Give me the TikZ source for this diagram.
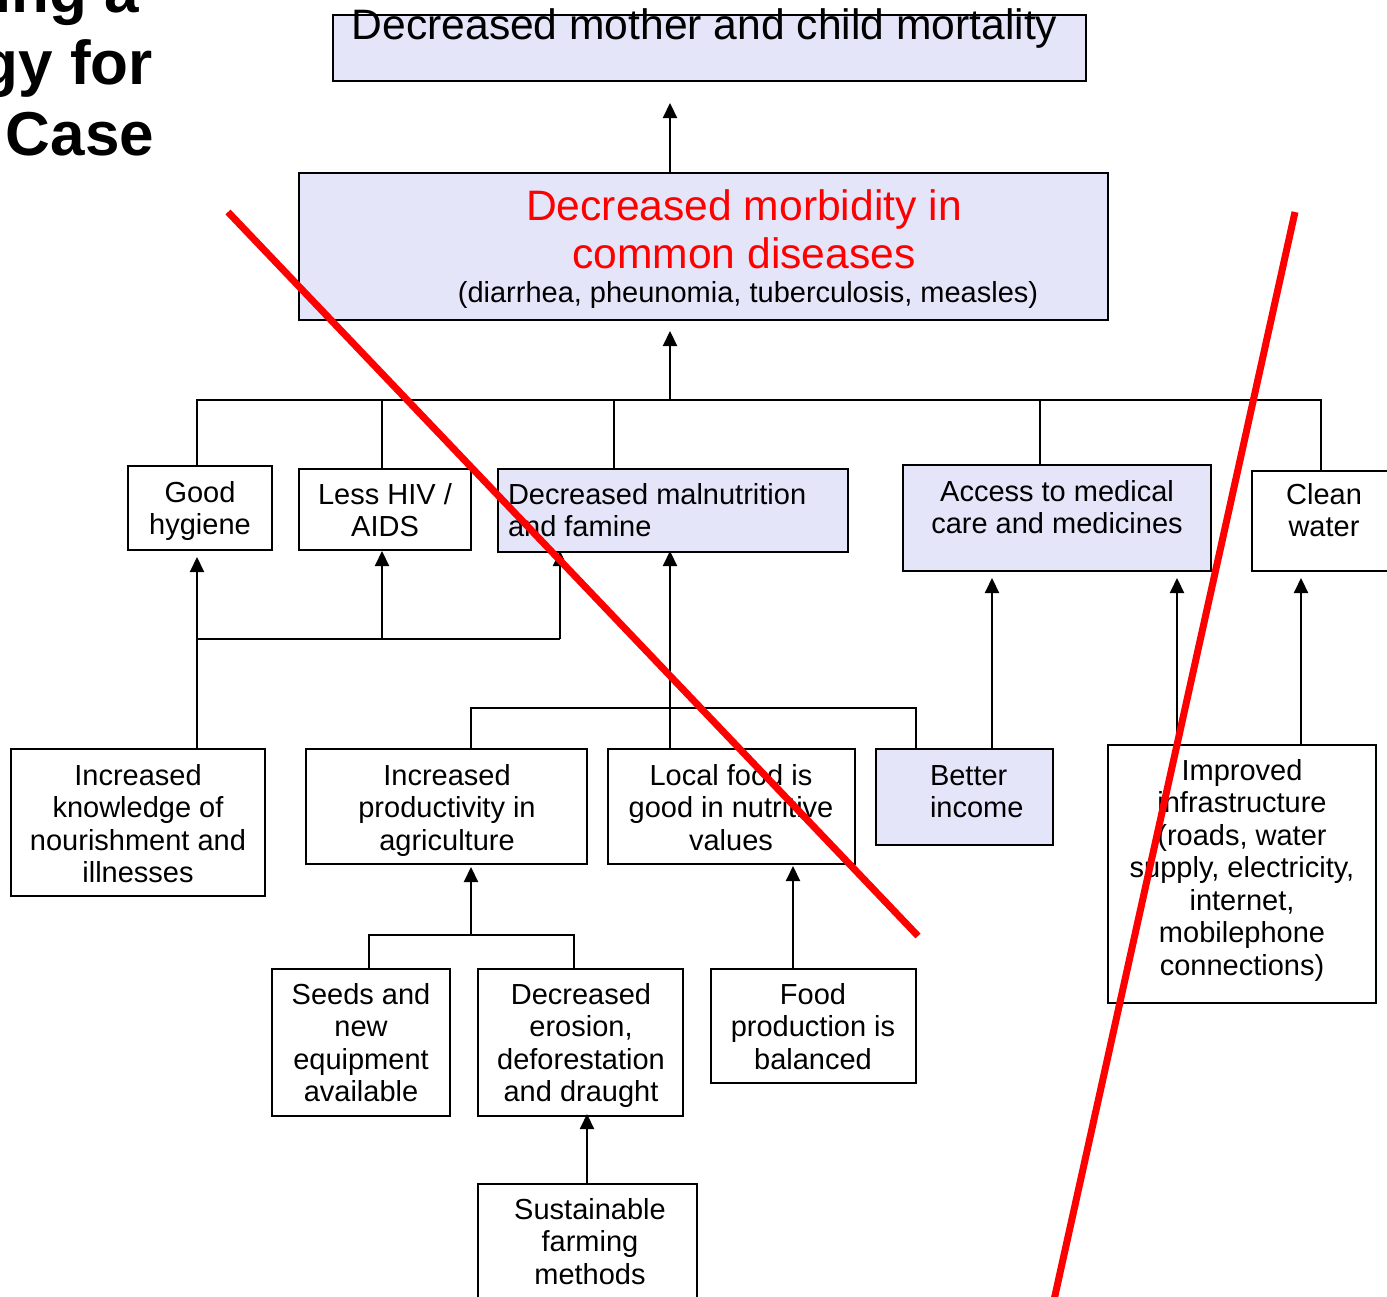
\documentclass[tikz,border=0pt]{standalone}
\usepackage{fontspec}
\setmainfont{Liberation Sans}
\usetikzlibrary{arrows.meta,fit}
\definecolor{lav}{RGB}{229,229,250}
\definecolor{cross}{RGB}{255,0,0}
\begin{document}
\begin{tikzpicture}[x=1pt,y=-1pt,
  box/.style={draw=black,line width=2pt,inner sep=0pt,outer sep=0pt},
  lavbox/.style={box,fill=lav},
  % multi-line texts are placed by the baseline of their last line
  txt/.style={inner sep=0pt,outer sep=0pt,align=center,anchor=base,
              font=\fontsize{29}{32.5}\selectfont},
  ltxt/.style={txt,align=left,anchor=base west},
  bigtxt/.style={txt,font=\fontsize{42.6}{48}\selectfont},
  headtxt/.style={inner sep=0pt,outer sep=0pt,anchor=base east,
              font=\fontsize{62}{71}\selectfont\bfseries},
  link/.style={line width=2.2pt},
  arr/.style={link,-{Triangle[length=15pt,width=14pt]}},
  strike/.style={draw=cross,line width=7pt}]
\path[use as bounding box] (0,0) rectangle (1387,1296);
\clip (0,0) rectangle (1387,1296);

% heading, partly outside the frame
\node[headtxt] (head1) at (139,12) {ing a};
\node[headtxt] (head2) at (153,84) {gy for};
\node[headtxt] (head3) at (154,155) {Case};

% boxes
\node[lavbox, fit={(333,15) (1086,81)}] (mort) {};
\node[lavbox, fit={(299,173) (1108,320)}] (morb) {};
\node[box, fit={(128,466) (272,550)}] (hyg) {};
\node[box, fit={(299,469) (471,550)}] (hiv) {};
\node[lavbox, fit={(498,469) (848,552)}] (maln) {};
\node[lavbox, fit={(903,465) (1211,571)}] (acc) {};
\node[box, fit={(1252,471) (1396,571)}] (water) {};
\node[box, fit={(11,749) (265,896)}] (know) {};
\node[box, fit={(306,749) (587,864)}] (prod) {};
\node[box, fit={(608,749) (855,864)}] (food) {};
\node[lavbox, fit={(876,749) (1053,845)}] (inc) {};
\node[box, fit={(1108,745) (1376,1003)}] (infra) {};
\node[box, fit={(272,969) (450,1116)}] (seeds) {};
\node[box, fit={(478,969) (683,1116)}] (eros) {};
\node[box, fit={(711,969) (916,1083)}] (bal) {};
\node[box, fit={(478,1184) (697,1320)}] (sust) {};

% texts
\node[bigtxt] (mort-t) at (704.5,39) {Decreased mother and child mortality};
\node[bigtxt, text=cross] (morb-t) at (744,268) {Decreased morbidity in\\common diseases};
\node[txt] (morb-s) at (748,302) {(diarrhea, pheunomia, tuberculosis, measles)};
\node[txt] (hyg-t) at (200,534.5) {Good\\hygiene};
\node[txt] (hiv-t) at (385,536.5) {Less HIV /\\AIDS};
\node[ltxt] (maln-t) at (508,536.5) {Decreased malnutrition\\and famine};
\node[txt] (acc-t) at (1057,533.5) {Access to medical\\care and medicines};
\node[txt] (water-t) at (1324,536.5) {Clean\\water};
\node[txt] (know-t) at (138,882.5) {Increased\\knowledge of\\nourishment and\\illnesses};
\node[txt] (prod-t) at (447,850) {Increased\\productivity in\\agriculture};
\node[txt] (food-t) at (731,850) {Local food is\\good in nutritive\\values};
\node[ltxt] (inc-t) at (930,817.5) {Better\\income};
\node[txt] (infra-t) at (1242,975) {Improved\\infrastructure\\(roads, water\\supply, electricity,\\internet,\\mobilephone\\connections)};
\node[txt] (seeds-t) at (361,1101.5) {Seeds and\\new\\equipment\\available};
\node[txt] (eros-t) at (581,1101.5) {Decreased\\erosion,\\deforestation\\and draught};
\node[txt] (bal-t) at (813,1069) {Food\\production is\\balanced};
\node[txt] (sust-t) at (590,1284) {Sustainable\\farming\\methods};

% top links
\coordinate (tipMort) at (670,103);
\draw[arr] (morb.north -| tipMort) -- (tipMort);
\coordinate (busTop) at (670,400);
\coordinate (tipMorb) at (670,331);
\draw[arr] (busTop) -- (tipMorb);
\coordinate (bA) at (197,400);
\coordinate (bB) at (382,400);
\coordinate (bC) at (614,400);
\coordinate (bD) at (1040,400);
\coordinate (bE) at (1321,400);
\draw[link] (hyg.north -| bA) -- (bA) -- (bE) -- (water.north -| bE);
\draw[link] (hiv.north -| bB) -- (bB);
\draw[link] (maln.north -| bC) -- (bC);
\draw[link] (acc.north -| bD) -- (bD);

% knowledge branch
\coordinate (jA) at (197,639);
\coordinate (jB) at (382,639);
\coordinate (jC) at (560,639);
\coordinate (tipHyg) at (197,557);
\coordinate (tipHiv) at (382,551);
\coordinate (tipMalnL) at (560,551);
\draw[arr] (know.north -| jA) -- (tipHyg);
\draw[link] (jA) -- (jC);
\draw[arr] (jB) -- (tipHiv);
\draw[arr] (jC) -- (tipMalnL);

% nutrition branch
\coordinate (tipMalnR) at (670,551);
\draw[arr] (food.north -| tipMalnR) -- (tipMalnR);
\coordinate (mA) at (471,708);
\coordinate (mB) at (916,708);
\draw[link] (prod.north -| mA) -- (mA) -- (mB) -- (inc.north -| mB);

% medical care and water
\coordinate (tipAccL) at (992,578);
\coordinate (tipAccR) at (1177,578);
\coordinate (tipWater) at (1301,578);
\draw[arr] (inc.north -| tipAccL) -- (tipAccL);
\draw[arr] (infra.north -| tipAccR) -- (tipAccR);
\draw[arr] (infra.north -| tipWater) -- (tipWater);

% agriculture branch
\coordinate (lA) at (369,935);
\coordinate (lB) at (574,935);
\coordinate (lM) at (471,935);
\coordinate (tipProd) at (471,867);
\draw[link] (seeds.north -| lA) -- (lA) -- (lB) -- (eros.north -| lB);
\draw[arr] (lM) -- (tipProd);
\coordinate (tipFood) at (793,866);
\draw[arr] (bal.north -| tipFood) -- (tipFood);
\coordinate (tipEros) at (587,1114);
\draw[arr] (sust.north -| tipEros) -- (tipEros);

% crossing-out strokes
\coordinate (s1a) at (228,212);
\coordinate (s1b) at (918,936);
\coordinate (s2a) at (1295,212);
\coordinate (s2b) at (1054,1300);
\draw[strike] (s1a) -- (s1b);
\draw[strike] (s2a) -- (s2b);
\end{tikzpicture}
\end{document}
